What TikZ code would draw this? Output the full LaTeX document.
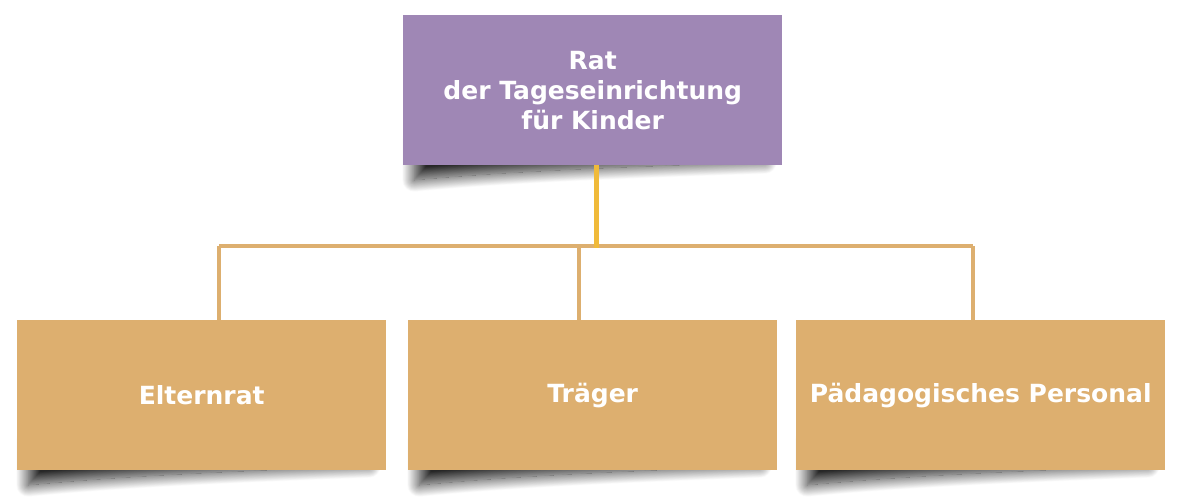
\documentclass[tikz,border=0pt]{standalone}
\usepackage{fontspec}
\setsansfont{DejaVu Sans}
\usetikzlibrary{shadows.blur}
\definecolor{lila}{HTML}{9F87B5}
\definecolor{sand}{HTML}{DDAF6F}
\definecolor{gold}{HTML}{F0BA3A}
\tikzset{
  box/.style={rectangle, anchor=north west, minimum width=369pt, minimum height=150pt, inner sep=0pt,
    text=white, font=\sffamily\bfseries\fontsize{25}{30}\selectfont, align=center},
  curl/.style={blur shadow={shadow xshift=0pt, shadow yshift=0pt, shadow blur radius=12pt, shadow blur steps=30, shadow opacity=85}},
  link/.style={draw=sand, line width=4pt},
}
\begin{document}
\begin{tikzpicture}[x=1pt,y=-1pt]
	\useasboundingbox (0,0) rectangle (1180,500);
	% curled shadows
	\path[curl] (414,140) -- (414,180) .. controls (520,170) and (650,166) .. (765,162) -- (765,140) -- cycle;
	\path[curl] (28,440) -- (28,485) .. controls (130,475) and (260,470) .. (369,466) -- (369,440) -- cycle;
	\path[curl] (419,440) -- (419,485) .. controls (520,475) and (650,470) .. (760,466) -- (760,440) -- cycle;
	\path[curl] (807,440) -- (807,485) .. controls (910,475) and (1040,470) .. (1148,466) -- (1148,440) -- cycle;
	\node[box, fill=lila, minimum width=379pt] (rat) at (403,15) {Rat\\der Tageseinrichtung\\für Kinder};
	\node[box, fill=sand] (eltern) at (17,320) {Elternrat};
	\node[box, fill=sand] (traeger) at (408,320) {Träger};
	\node[box, fill=sand] (paed) at (796,320) {Pädagogisches Personal};
	\coordinate (hub) at (596.5,246);
	\coordinate (el) at (219,246);
	\coordinate (tr) at (579,246);
	\coordinate (pa) at (973,246);
	\draw[link] (el) -- (pa);
	\draw[link] (el) -- (el |- eltern.north);
	\draw[link] (tr) -- (tr |- traeger.north);
	\draw[link] (pa) -- (pa |- paed.north);
	\draw[draw=gold, line width=5pt] (rat.south -| hub) -- ([yshift=-2pt]hub);
\end{tikzpicture}
\end{document}
